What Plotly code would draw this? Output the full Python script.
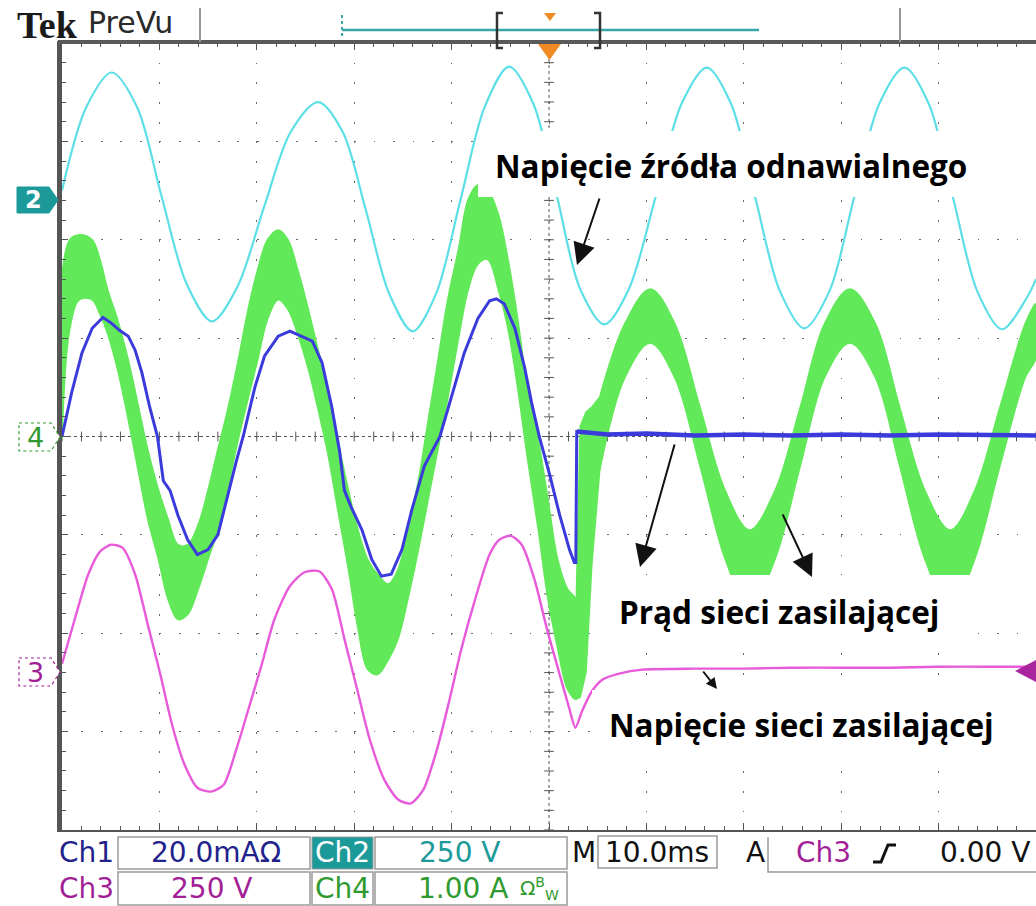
import plotly.graph_objects as go

# ---------------- data (time in ms, amplitude in screen divisions) ----------------
# Ch2 - renewable source voltage (cyan)
ch2_t = [0, 2.5, 5.1, 7.7, 10.2, 12.8, 15.4, 18.0, 20.8, 23.5, 26.3, 28.8, 31.2, 33.6, 36.0,
         38.4, 40.9, 43.4, 45.9, 48.4, 50.8, 53.2, 55.7, 58.2, 60.9, 63.6, 66.2, 68.7, 71.2,
         73.7, 76.2, 78.8, 81.3, 83.9, 86.5, 89.0, 91.5, 94.0, 96.5, 99.0, 100]
ch2_v = [2.50, 3.35, 3.70, 3.35, 2.45, 1.55, 1.17, 1.52, 2.35, 3.10, 3.40, 3.10, 2.30, 1.45, 1.07,
         1.45, 2.40, 3.35, 3.76, 3.38, 2.45, 1.50, 1.14, 1.50, 2.42, 3.38, 3.75, 3.38, 2.42,
         1.48, 1.10, 1.48, 2.42, 3.38, 3.75, 3.38, 2.42, 1.47, 1.09, 1.40, 1.60]

# Ch1 - load current (blue)
ch1_t = [0, 1.0, 2.05, 3.1, 4.2, 5.1, 5.9, 6.8, 7.5, 8.2, 9.0, 9.8, 10.4, 11.1, 11.9, 12.9, 13.9,
         15.0, 16.0, 17.0, 17.9, 18.6, 19.8, 20.8, 22.2, 23.4, 24.6, 25.7, 26.7, 27.7, 28.5, 29.0,
         29.7, 30.8, 31.8, 32.8, 33.8, 34.9, 35.9, 37.2, 38.8, 40.0, 41.3, 42.7, 43.9, 44.6, 45.4,
         46.5, 47.5, 48.2, 49.0, 50.1, 51.1, 52.1, 52.6, 52.75, 52.85, 56, 60, 65, 70, 75, 80, 85,
         90, 95, 100]
ch1_v = [0.0, 0.45, 0.85, 1.10, 1.21, 1.15, 1.08, 1.02, 0.88, 0.65, 0.30, 0.0, -0.45, -0.55, -0.80,
         -1.05, -1.20, -1.15, -1.00, -0.60, -0.25, 0.0, 0.50, 0.82, 1.02, 1.07, 1.02, 0.97, 0.75,
         0.30, -0.15, -0.55, -0.72, -0.95, -1.25, -1.42, -1.40, -1.15, -0.75, -0.30, 0.0, 0.40,
         0.85, 1.20, 1.38, 1.40, 1.35, 1.10, 0.70, 0.35, 0.0, -0.40, -0.80, -1.15, -1.28, -1.28,
         0.05, 0.02, 0.03, 0.01, 0.02, 0.01, 0.02, 0.01, 0.02, 0.01, 0.01]

# Ch3 - grid voltage (magenta)
ch3_t = [0, 1.3, 2.7, 3.9, 5.0, 6.2, 7.5, 8.8, 10.1, 11.3, 12.6, 13.9, 15.3, 16.6, 17.9, 19.3,
         20.5, 21.8, 23.4, 24.9, 26.4, 27.7, 29.0, 30.3, 31.6, 33.1, 34.5, 35.8, 37.1, 38.5, 39.8,
         41.0, 42.4, 43.9, 44.9, 46.1, 47.2, 48.5, 49.8, 51.1, 52.1, 52.7, 53.4, 54.4, 55.5, 57.2,
         59.6, 65, 70, 75, 80, 85, 90, 95, 100]
ch3_v = [-2.31, -1.86, -1.40, -1.17, -1.10, -1.13, -1.40, -1.91, -2.42, -2.93, -3.34, -3.57, -3.61,
         -3.54, -3.18, -2.72, -2.32, -1.86, -1.52, -1.38, -1.37, -1.55, -2.06, -2.57, -3.08, -3.49,
         -3.69, -3.73, -3.59, -3.18, -2.67, -2.16, -1.66, -1.20, -1.05, -1.01, -1.10, -1.45, -1.96,
         -2.42, -2.77, -2.96, -2.79, -2.59, -2.47, -2.41, -2.37, -2.36, -2.36, -2.35, -2.35, -2.35,
         -2.34, -2.34, -2.34]

# Ch4 - supply grid current (green), noisy band: upper / lower envelopes
ch4a_t = [0, 0.8, 1.8, 3.1, 3.9, 4.7, 5.7, 6.8, 7.8, 8.8, 9.9, 10.9, 11.9, 12.9, 14.0, 15.0, 16.0,
          17.0, 18.1, 19.1, 20.1, 21.1, 22.2, 23.2, 24.2, 25.3, 26.3, 27.3, 28.3, 29.4, 30.4, 31.4,
          32.4, 33.5, 34.5, 35.5, 36.6, 37.6, 38.6, 39.6, 40.7, 41.7, 42.7, 43.7, 44.8, 45.8, 46.8,
          47.8, 48.9, 49.9, 50.9, 51.9, 52.8]
ch4a_hi = [1.64, 2.00, 2.05, 2.00, 1.80, 1.49, 1.19, 0.78, 0.33, -0.13, -0.54, -0.84, -1.10, -1.10,
           -0.89, -0.54, -0.13, 0.27, 0.78, 1.29, 1.70, 2.00, 2.10, 2.00, 1.70, 1.29, 0.88, 0.48,
           -0.03, -0.54, -0.95, -1.25, -1.40, -1.50, -1.35, -0.95, -0.44, 0.17, 0.78, 1.39, 1.90,
           2.41, 2.56, 2.51, 2.26, 1.80, 1.19, 0.48, -0.03, -0.64, -1.25, -1.55, -1.66]
ch4a_lo = [-0.03, 1.09, 1.39, 1.39, 1.24, 1.04, 0.68, 0.17, -0.34, -0.84, -1.25, -1.66, -1.86, -1.81,
           -1.55, -1.25, -0.95, -0.54, -0.03, 0.38, 0.78, 1.19, 1.39, 1.29, 1.04, 0.68, 0.27, -0.18,
           -0.74, -1.35, -1.96, -2.37, -2.42, -2.27, -2.06, -1.66, -1.15, -0.64, -0.13, 0.38, 0.99,
           1.49, 1.75, 1.80, 1.49, 1.09, 0.48, -0.23, -0.95, -1.66, -2.16, -2.57, -2.67]
ch4b_t = [52.8, 53.2, 53.8, 54.4, 55.2]
ch4b_hi = [-1.66, 0.10, 0.25, 0.30, 0.40]
ch4b_lo = [-2.67, -2.65, -2.40, -1.30, -0.35]
ch4c_t = [55.2, 57.8, 60.4, 62.9, 65.5, 68.1, 70.6, 73.2, 75.8, 78.3, 80.9, 83.5, 86.0, 88.6,
          91.2, 93.7, 96.3, 98.9, 100]
ch4c_hi = [0.40, 1.15, 1.50, 1.15, 0.30, -0.55, -0.95, -0.55, 0.30, 1.15, 1.50, 1.15, 0.30, -0.55,
           -0.95, -0.55, 0.30, 1.15, 1.35]
ch4c_lo = [-0.35, 0.60, 0.95, 0.60, -0.30, -1.25, -1.75, -1.25, -0.30, 0.60, 0.95, 0.60, -0.30,
           -1.25, -1.75, -1.25, -0.30, 0.60, 0.80]

# status bar texts
status_row1 = ["Ch1", "20.0mAΩ", "Ch2", "250 V", "M", "10.0ms", "A", "Ch3", "0.00 V"]
status_row2 = ["Ch3", "250 V", "Ch4", "1.00 A"]
labels = ["Napięcie źródła odnawialnego", "Prąd sieci zasilającej", "Napięcie sieci zasilającej"]

# ---------------- geometry helpers (page pixels -> paper) ----------------
W, H = 1036, 906
L, R, T, B = 62, 0, 43, 76
PW, PH = W - L - R, H - T - B


def px(x):
    return (x - L) / PW


def py(y):
    return (H - B - y) / PH


def path(points, close=True):
    s = "M " + " L ".join(f"{px(x):.5f},{py(y):.5f}" for x, y in points)
    return s + (" Z" if close else "")


C_CYAN = "#5ddfe6"
C_BLUE = "#3b3bdc"
C_MAG = "#e85ad9"
C_GREEN = "#62e95a"
C_TEAL = "#1c9a9a"
C_NAVY = "#22228c"
C_PURP = "#a21f98"
C_DKGRN = "#2f9a2f"
GRID = "#6a6a6a"

fig = go.Figure()

# center-line tick marks
fig.add_trace(go.Scatter(x=[i * 2 for i in range(51)], y=[0] * 51, mode="markers",
                         marker=dict(symbol="line-ns", size=7, line=dict(width=1, color="#555")),
                         hoverinfo="skip"))
fig.add_trace(go.Scatter(x=[50] * 41, y=[-4 + i * 0.2 for i in range(41)], mode="markers",
                         marker=dict(symbol="line-ew", size=7, line=dict(width=1, color="#555")),
                         hoverinfo="skip"))

# green band (three segments)
for tt, hi, lo, shape in [(ch4a_t, ch4a_hi, ch4a_lo, "spline"), (ch4b_t, ch4b_hi, ch4b_lo, "linear"),
                          (ch4c_t, ch4c_hi, ch4c_lo, "spline")]:
    fig.add_trace(go.Scatter(x=tt + tt[::-1], y=hi + lo[::-1], fill="toself", fillcolor=C_GREEN,
                             mode="lines", line=dict(color=C_GREEN, width=1.5, shape=shape),
                             hoverinfo="skip"))

fig.add_trace(go.Scatter(x=ch2_t, y=ch2_v, mode="lines",
                         line=dict(color=C_CYAN, width=2.2, shape="spline", smoothing=0.9)))
fig.add_trace(go.Scatter(x=ch3_t, y=ch3_v, mode="lines",
                         line=dict(color=C_MAG, width=2.4, shape="spline", smoothing=0.7)))
fig.add_trace(go.Scatter(x=ch1_t, y=ch1_v, mode="lines", line=dict(color=C_BLUE, width=3)))
# flat (noisy) part after the switch drawn thicker
k = ch1_t.index(52.85)
fig.add_trace(go.Scatter(x=ch1_t[k:], y=ch1_v[k:], mode="lines", line=dict(color=C_BLUE, width=4.5)))

shapes = []
# center dense dotted lines
shapes.append(dict(type="line", xref="x", yref="y", x0=0, x1=100, y0=0, y1=0, layer="below",
                   line=dict(color="#555", width=1, dash="dot")))
shapes.append(dict(type="line", xref="x", yref="y", x0=50, x1=50, y0=-4, y1=4, layer="below",
                   line=dict(color="#555", width=1, dash="dot")))
# thick top border
shapes.append(dict(type="line", xref="paper", yref="paper", x0=px(58), x1=px(1036), y0=py(42), y1=py(42),
                   line=dict(color="#5a5a5a", width=4)))

# white label boxes
for (x0, y0, x1, y1) in [(478, 131, 1036, 197), (592, 575, 976, 637), (592, 690, 1036, 760)]:
    shapes.append(dict(type="rect", xref="paper", yref="paper", x0=px(x0), x1=px(x1), y0=py(y1), y1=py(y0),
                       fillcolor="white", line=dict(width=0), layer="above"))

# channel tags on the left
shapes.append(dict(type="path", xref="paper", yref="paper", fillcolor=C_TEAL, line=dict(color=C_TEAL, width=1),
                   path=path([(17, 187), (49, 187), (58, 200), (49, 213), (17, 213)])))
shapes.append(dict(type="path", xref="paper", yref="paper", fillcolor="white",
                   line=dict(color=C_DKGRN, width=1.2, dash="dot"),
                   path=path([(19, 423), (51, 423), (60, 437), (51, 451), (19, 451)])))
shapes.append(dict(type="path", xref="paper", yref="paper", fillcolor="white",
                   line=dict(color=C_PURP, width=1.2, dash="dot"),
                   path=path([(19, 658), (51, 658), (60, 672), (51, 686), (19, 686)])))
# trigger level marker at right
shapes.append(dict(type="path", xref="paper", yref="paper", fillcolor="#a8259f", line=dict(width=0),
                   path=path([(1015, 671), (1036, 660), (1036, 682)]), layer="above"))
# orange trigger markers
shapes.append(dict(type="path", xref="paper", yref="paper", fillcolor="#f08a24", line=dict(width=0),
                   path=path([(538, 44), (561, 44), (549.5, 60)]), layer="above"))
shapes.append(dict(type="path", xref="paper", yref="paper", fillcolor="#f08a24", line=dict(width=0),
                   path=path([(544, 13), (556, 13), (550, 21)])))
# top record bar
shapes.append(dict(type="line", xref="paper", yref="paper", x0=px(342), x1=px(759), y0=py(30), y1=py(30),
                   line=dict(color="#3aa5a5", width=2.5)))
shapes.append(dict(type="line", xref="paper", yref="paper", x0=px(342), x1=px(342), y0=py(15), y1=py(36),
                   line=dict(color="#3aa5a5", width=2, dash="dot")))
shapes.append(dict(type="path", xref="paper", yref="paper", line=dict(color="#333", width=2.5),
                   path=path([(503, 13), (497, 13), (497, 48), (503, 48)], close=False)))
shapes.append(dict(type="path", xref="paper", yref="paper", line=dict(color="#333", width=2.5),
                   path=path([(594, 13), (600, 13), (600, 48), (594, 48)], close=False)))
for xx in (200, 900):
    shapes.append(dict(type="line", xref="paper", yref="paper", x0=px(xx), x1=px(xx), y0=py(8), y1=py(42),
                       line=dict(color="#999", width=2)))

# status bar boxes
BOX = "#9a9a9a"
for (x0, y0, x1, y1) in [(118, 837, 310, 869), (375, 837, 567, 869), (598, 836, 717, 868),
                         (118, 872, 310, 905), (375, 872, 567, 905), (312, 872, 373, 905)]:
    shapes.append(dict(type="rect", xref="paper", yref="paper", x0=px(x0), x1=px(x1), y0=py(y1), y1=py(y0),
                       line=dict(color=BOX, width=1.5)))
shapes.append(dict(type="rect", xref="paper", yref="paper", x0=px(312), x1=px(373), y0=py(869), y1=py(837),
                   fillcolor=C_TEAL, line=dict(color=BOX, width=1)))
shapes.append(dict(type="path", xref="paper", yref="paper", line=dict(color=BOX, width=1.5),
                   path=path([(768, 837), (768, 872), (1036, 872)], close=False)))
# trigger slope symbol
shapes.append(dict(type="path", xref="paper", yref="paper", line=dict(color="#111", width=3),
                   path=path([(873, 862), (881, 862), (888, 845), (896, 845)], close=False)))

annotations = []


def txt(x, y, s, color, size, family="DejaVu Sans", xanchor="center", bold=False):
    annotations.append(dict(x=px(x), y=py(y), xref="paper", yref="paper", text=(f"<b>{s}</b>" if bold else s),
                            showarrow=False, xanchor=xanchor, yanchor="middle",
                            font=dict(color=color, size=size, family=family)))


# top header
txt(15, 25, "Tek", "#1a1a1a", 38, family="Liberation Serif", xanchor="left", bold=True)
txt(86, 23, "PreVu", "#2a2a2a", 30, xanchor="left")

# channel tag labels
txt(33, 200, "2", "white", 24, bold=True)
txt(35, 437, "4", C_DKGRN, 27)
txt(35, 672, "3", C_PURP, 27)

# status bar
SZ = 28
txt(86, 852, status_row1[0], C_NAVY, SZ)
txt(216, 852, status_row1[1], C_NAVY, SZ)
txt(342, 852, status_row1[2], "white", SZ)
txt(460, 852, status_row1[3], C_TEAL, SZ)
txt(584, 852, status_row1[4], "#111", SZ)
txt(657, 852, status_row1[5], "#111", SZ)
txt(755, 852, status_row1[6], "#111", SZ)
txt(823, 852, status_row1[7], C_PURP, SZ)
txt(938, 852, status_row1[8], "#111", SZ, xanchor="left")
txt(86, 888, status_row2[0], C_PURP, SZ)
txt(212, 888, status_row2[1], C_PURP, SZ)
txt(342, 888, status_row2[2], C_DKGRN, SZ)
txt(463, 888, status_row2[3], C_DKGRN, SZ)
txt(518, 888, "Ω<sup>B</sup><sub>W</sub>", C_DKGRN, 20, xanchor="left")

# callout labels
txt(731, 165, labels[0], "black", 31.5, family="Open Sans", bold=True)
txt(779, 611, labels[1], "black", 31.5, family="Open Sans", bold=True)
txt(801, 724, labels[2], "black", 31.5, family="Open Sans", bold=True)

# arrows (head position, tail offset, head size)
for hx, hy, ax, ay, sz in [(577, 265, 23, -68, 2.2), (640, 567, 35, -124, 2.2), (812, 577, -30, -64, 2.2),
                           (717, 689, -15, -19, 1.1)]:
    annotations.append(dict(x=px(hx), y=py(hy), xref="paper", yref="paper", ax=ax, ay=ay, text="",
                            showarrow=True, arrowhead=2, arrowsize=sz, arrowwidth=2, arrowcolor="#111"))

fig.update_layout(
    width=W, height=H, margin=dict(l=L, r=R, t=T, b=B),
    paper_bgcolor="white", plot_bgcolor="white", showlegend=False,
    shapes=shapes, annotations=annotations,
    xaxis=dict(range=[0, 100], tick0=0, dtick=10, showgrid=True, gridcolor=GRID, gridwidth=1.3,
               griddash="1.8px,17.88px", zeroline=False, showticklabels=False,
               ticks="inside", ticklen=7, tickcolor="#555", showline=True, linecolor="#555",
               linewidth=2, mirror="allticks",
               minor=dict(dtick=2, tick0=0, ticks="inside", ticklen=4, tickcolor="#555", showgrid=False)),
    yaxis=dict(range=[-4, 4], tick0=0, dtick=1, showgrid=True, gridcolor=GRID, gridwidth=1.3,
               griddash="1.8px,17.68px", zeroline=False, showticklabels=False,
               ticks="inside", ticklen=6, tickcolor="#555", showline=True, linecolor="#555",
               linewidth=5, mirror=False,
               minor=dict(dtick=0.2, tick0=0, ticks="inside", ticklen=4, tickcolor="#555", showgrid=False)),
)

fig.write_html("out.html")
